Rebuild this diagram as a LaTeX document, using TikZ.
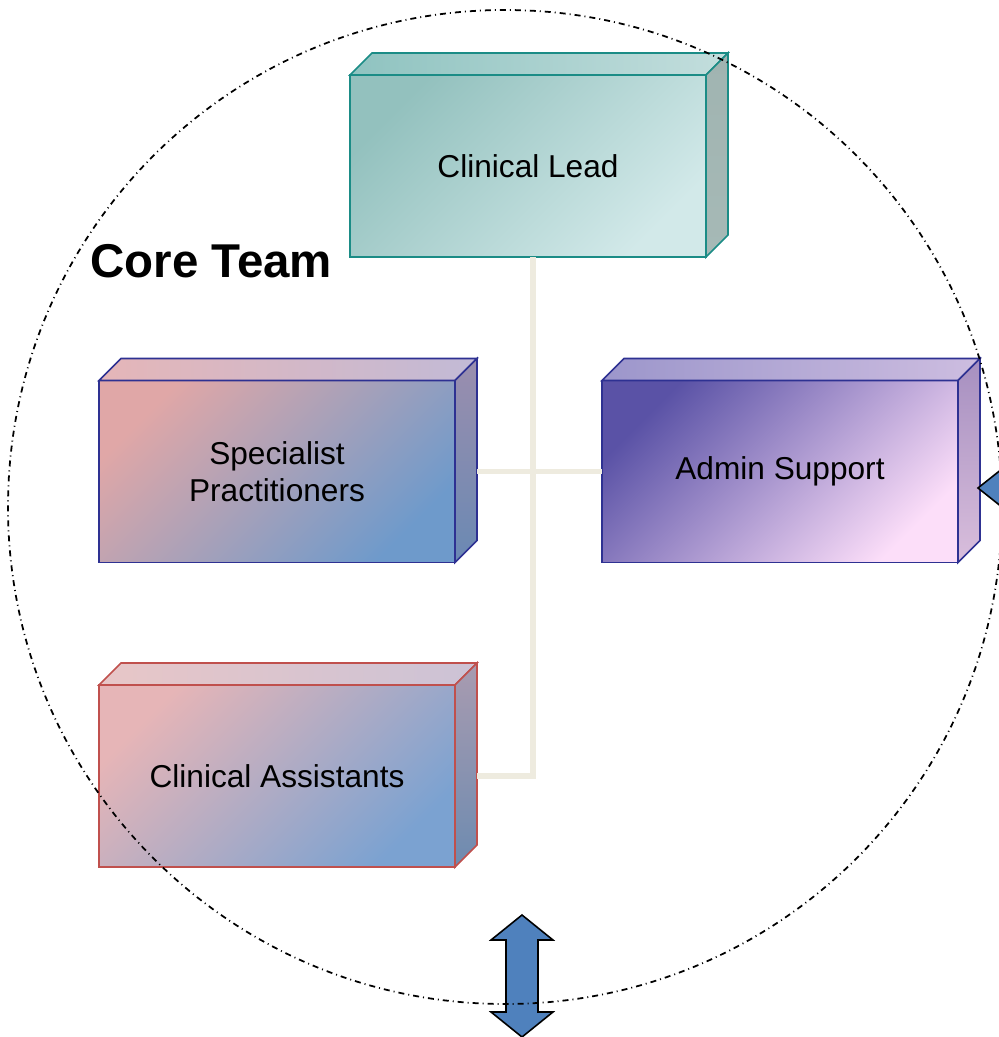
\documentclass[tikz,border=0pt]{standalone}
\usepackage{fontspec}
\setmainfont{Liberation Sans}
\usetikzlibrary{calc}

\definecolor{leadA}{HTML}{93C1BE}
\definecolor{leadB}{HTML}{D2E9E9}
\definecolor{lnlead}{HTML}{1B8C86}
\definecolor{tlLlead}{HTML}{8FC3C0}
\definecolor{tlRlead}{HTML}{C3DEDD}
\definecolor{sdTlead}{HTML}{A0B4B1}
\definecolor{sdBlead}{HTML}{A6B9B6}

\definecolor{specA}{HTML}{E0A7A7}
\definecolor{specB}{HTML}{6E9ACB}
\definecolor{lnspec}{HTML}{2E3192}
\definecolor{tlLspec}{HTML}{E5B6B8}
\definecolor{tlRspec}{HTML}{C2BAD6}
\definecolor{sdTspec}{HTML}{9B8EAE}
\definecolor{sdBspec}{HTML}{6A89B3}

\definecolor{adminA}{HTML}{5A52A6}
\definecolor{adminB}{HTML}{FCDEF9}
\definecolor{lnadmin}{HTML}{2E3192}
\definecolor{tlLadmin}{HTML}{9C96CB}
\definecolor{tlRadmin}{HTML}{CDBDE0}
\definecolor{sdTadmin}{HTML}{A68FC0}
\definecolor{sdBadmin}{HTML}{D9BEDC}

\definecolor{assistA}{HTML}{E6B5B7}
\definecolor{assistB}{HTML}{7BA2D1}
\definecolor{lnassist}{HTML}{C0504D}
\definecolor{tlLassist}{HTML}{E8C6C7}
\definecolor{tlRassist}{HTML}{CCC3D6}
\definecolor{sdTassist}{HTML}{A99BB0}
\definecolor{sdBassist}{HTML}{6D8BB0}

\definecolor{linkcol}{HTML}{EEEBDF}
\definecolor{arrowcol}{HTML}{4F81BD}

\begin{document}
\begin{tikzpicture}[scale=1.0,
    cube/.style n args={3}{draw=#1, line width=0.9pt, top color=#2, bottom color=#3, shading angle=45,
        minimum width=7.12cm, minimum height=3.64cm, inner sep=0pt, outer sep=0pt,
        align=center, font=\fontsize{18}{21}\selectfont},
    link/.style={draw=linkcol, line width=3.4pt},
    blockarrow/.style={fill=arrowcol, draw=black, line width=0.9pt, line join=miter}]
    \useasboundingbox (0,0) rectangle (19.96,-20.74);

    \node[cube={lnlead}{leadA}{leadB}] (lead) at (10.56,-3.32) {Clinical Lead};
    \node[cube={lnspec}{specA}{specB}] (spec) at (5.54,-9.43) {Specialist\\Practitioners};
    \node[cube={lnadmin}{adminA}{adminB}] (admin) at (15.60,-9.43) {Admin Support};
    \node[cube={lnassist}{assistA}{assistB}] (assist) at (5.54,-15.52) {Clinical Assistants};

    % top and side faces of each box
    \foreach \n in {lead,spec,admin,assist}{
        \filldraw[draw=ln\n, line width=0.9pt, left color=tlL\n, right color=tlR\n]
            (\n.north west) -- ++(0.44,0.44) -- ($(\n.north east)+(0.44,0.44)$) -- (\n.north east) -- cycle;
        \filldraw[draw=ln\n, line width=0.9pt, top color=sdT\n, bottom color=sdB\n]
            (\n.north east) -- ++(0.44,0.44) -- ($(\n.south east)+(0.44,0.44)$) -- (\n.south east) -- cycle;
    }

    \draw[link] ([xshift=0.1cm]lead.south) |- ([xshift=0.44cm]assist.east);
    \draw[link] ([xshift=0.44cm]spec.east) -- (admin.west);

    \node[anchor=base west, inner sep=0pt, font=\fontsize{27}{31}\selectfont\bfseries] (title) at (1.80,-5.54) {Core Team};

    \draw[blockarrow] (10.44,-18.30) -- ++(0.62,-0.5) -- ++(-0.3,0) -- ++(0,-1.44) -- ++(0.3,0)
        -- ++(-0.62,-0.5) -- ++(-0.62,0.5) -- ++(0.3,0) -- ++(0,1.44) -- ++(-0.3,0) -- cycle;
    \draw[blockarrow] (19.56,-9.76) -- ++(0.78,0.62) -- ++(0,-0.31) -- ++(0.6,0) -- ++(0,-0.62)
        -- ++(-0.6,0) -- ++(0,-0.31) -- cycle;

    \draw[line width=1pt, dash pattern=on 0.12cm off 0.08cm on 0.02cm off 0.08cm]
        (10.10,-10.14) circle (9.94);
\end{tikzpicture}
\end{document}
